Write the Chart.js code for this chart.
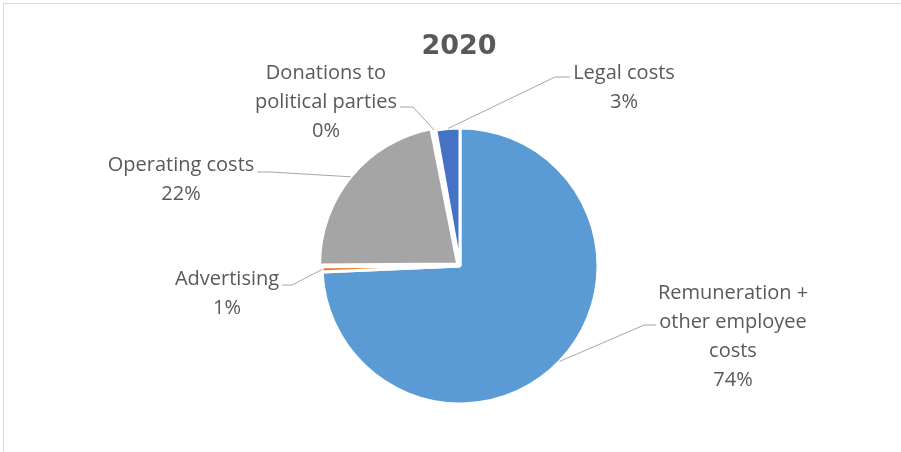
<!DOCTYPE html>
<html>
<head>
<meta charset="utf-8">
<script src="https://cdn.jsdelivr.net/npm/chart.js@4.4.0/dist/chart.umd.min.js"></script>
<style>
    body { margin: 0; background: #fff; }
    .frame { position: absolute; left: 3px; top: 3px; width: 1000px; height: 1000px; border: 1px solid #d9d9d9; }
    #pieChart { position: absolute; left: 0; top: 0; }
</style>
</head>
<body>
<div class="frame"></div>
<canvas id="pieChart" width="901" height="452"></canvas>
<script>
// Data
const chartTitle = '2020';
const categories = ['Remuneration + other employee costs', 'Advertising', 'Operating costs', 'Donations to political parties', 'Legal costs'];
const labelLines = [['Remuneration +', 'other employee', 'costs'], ['Advertising'], ['Operating costs'], ['Donations to', 'political parties'], ['Legal costs']];
const values = [74.3, 0.6, 22.0, 0.3, 2.8];

// Style
const sliceColors = ['#5b9bd5', '#ed7d31', '#a5a5a5', '#ffc000', '#4472c4'];
const sliceOffsets = [0, 0, 12, 0, 0];

// where each data label sits (baseline of first line) and where its leader line attaches
const labelLayout = [
    { x: 733, y: 299, side: 'left', line: 1, lineY: 325, knee: 12 },
    { x: 227, y: 285, side: 'right', line: 0, lineY: 285, knee: 10 },
    { x: 181, y: 171, side: 'right', line: 0, lineY: 172, knee: 13 },
    { x: 326, y: 79, side: 'right', line: 1, lineY: 107, knee: 13 },
    { x: 624, y: 79, side: 'left', line: 0, lineY: 77, knee: 15 }
];

const textColor = '#595959';
const labelFont = '20px "Open Sans"';
const lineStep = 29;

const pieLabels = {
    id: 'pieLabels',
    afterDatasetsDraw(chart) {
        const ctx = chart.ctx;
        const meta = chart.getDatasetMeta(0);
        const total = values.reduce((a, b) => a + b, 0);

        ctx.save();

        // title
        ctx.fillStyle = textColor;
        ctx.font = 'bold 27px "DejaVu Sans"';
        ctx.textAlign = 'center';
        ctx.textBaseline = 'middle';
        ctx.fillText(chartTitle, 459, 47);

        ctx.font = labelFont;
        ctx.textBaseline = 'alphabetic';

        meta.data.forEach((arc, i) => {
            const { x, y, startAngle, endAngle, outerRadius } = arc.getProps(['x', 'y', 'startAngle', 'endAngle', 'outerRadius'], true);
            const mid = (startAngle + endAngle) / 2;
            const r = outerRadius + (arc.options.offset || 0) / 4;
            const ax = x + Math.cos(mid) * r;
            const ay = y + Math.sin(mid) * r;

            const pos = labelLayout[i];
            const lines = [...labelLines[i], Math.round(values[i] / total * 100) + '%'];

            ctx.fillStyle = textColor;
            lines.forEach((t, k) => ctx.fillText(t, pos.x, pos.y + k * lineStep));

            const w = ctx.measureText(lines[pos.line]).width;
            const endX = pos.side === 'left' ? pos.x - w / 2 - 3 : pos.x + w / 2 + 3;
            const kneeX = pos.side === 'left' ? endX - pos.knee : endX + pos.knee;

            ctx.strokeStyle = '#a6a6a6';
            ctx.lineWidth = 1;
            ctx.beginPath();
            ctx.moveTo(ax, ay);
            ctx.lineTo(kneeX, pos.lineY);
            ctx.lineTo(endX, pos.lineY);
            ctx.stroke();
        });

        ctx.restore();
    }
};

const initChart = () => {
    const canvas = document.getElementById('pieChart');

    new Chart(canvas, {
        type: 'pie',
        data: {
            labels: categories,
            datasets: [{
                data: values,
                backgroundColor: sliceColors,
                borderColor: '#ffffff',
                borderWidth: 3,
                offset: sliceOffsets,
                hoverOffset: 0
            }]
        },
        options: {
            responsive: false,
            animation: false,
            radius: 138,
            layout: {
                padding: { top: 130, bottom: 50, left: 322, right: 303 }
            },
            plugins: {
                legend: { display: false },
                tooltip: { enabled: false }
            }
        },
        plugins: [pieLabels]
    });
};

document.addEventListener('DOMContentLoaded', initChart);
</script>
</body>
</html>
